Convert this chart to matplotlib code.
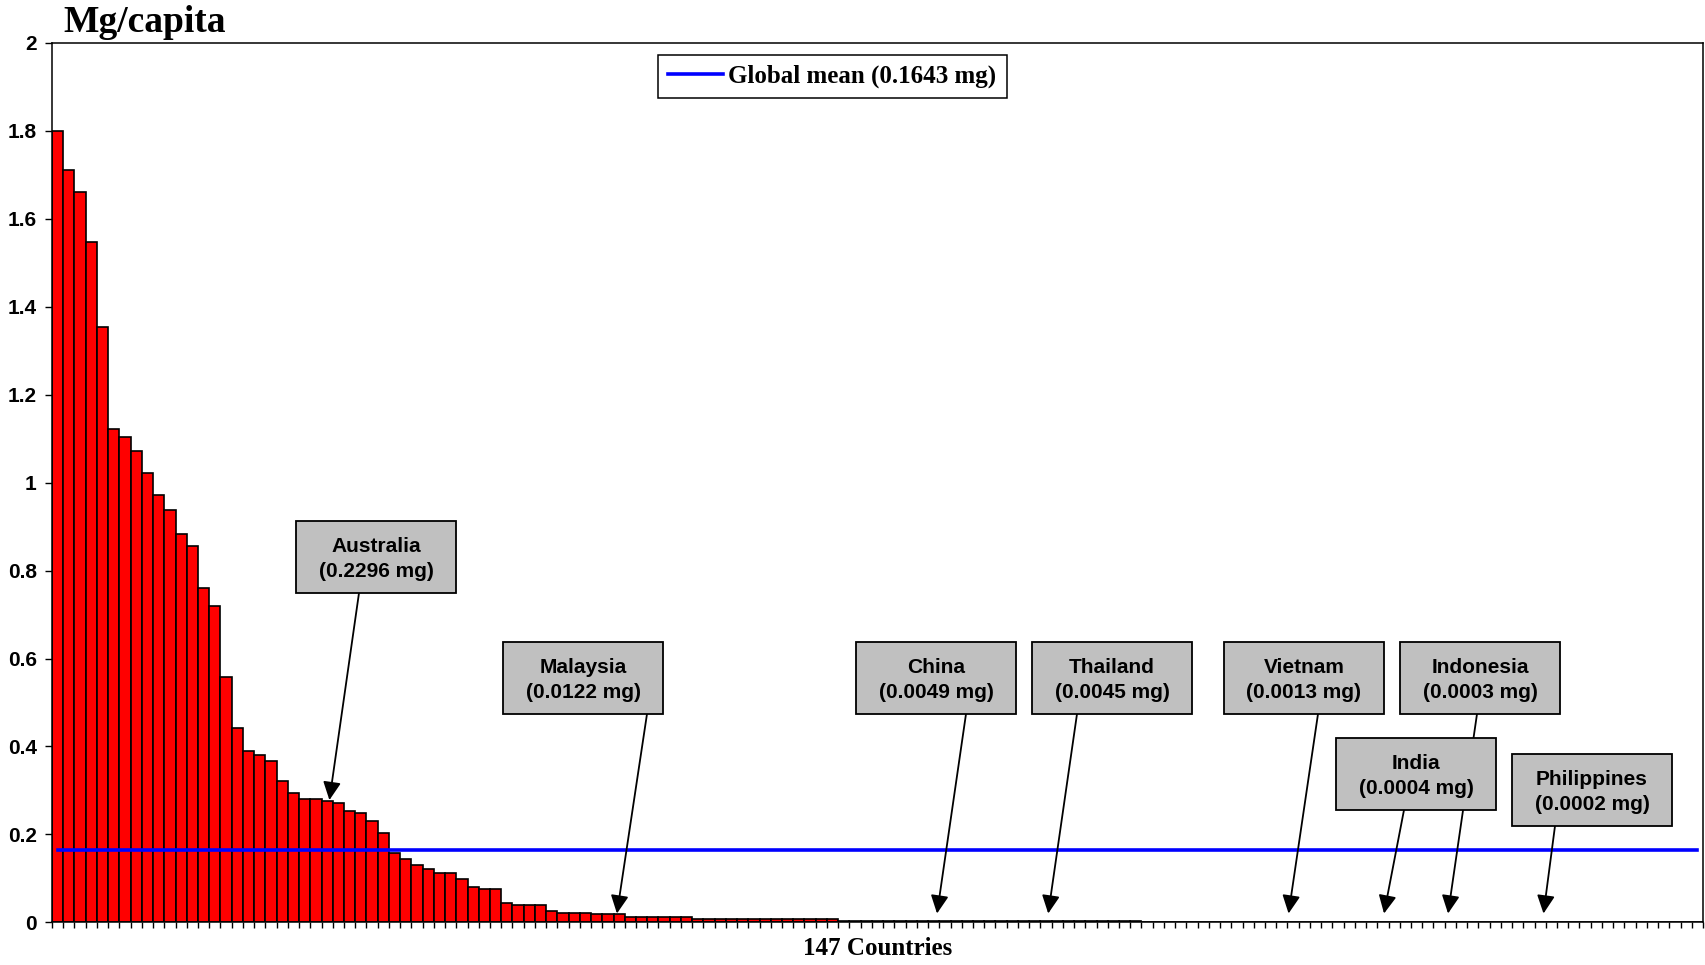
import numpy as np
import matplotlib
matplotlib.use('Agg')
import matplotlib.pyplot as plt
from matplotlib.patches import Rectangle

# values per country (sorted, 147 countries)
values = [
    1.800, 1.711, 1.662, 1.548, 1.354, 1.122, 1.104, 1.073, 1.023, 0.973,
    0.937, 0.884, 0.856, 0.760, 0.719, 0.557, 0.443, 0.389, 0.380, 0.367,
    0.321, 0.294, 0.280, 0.280, 0.276, 0.271, 0.253, 0.249, 0.230, 0.204,
    0.157, 0.145, 0.131, 0.122, 0.112, 0.112, 0.099, 0.081, 0.076, 0.076,
    0.045, 0.040, 0.040, 0.040, 0.026, 0.022, 0.022, 0.022, 0.019, 0.019,
    0.019, 0.013, 0.013, 0.013, 0.013, 0.013, 0.013, 0.008, 0.008, 0.008,
    0.008, 0.008, 0.008, 0.008, 0.008, 0.008, 0.008, 0.008, 0.008, 0.008,
    0.004, 0.004, 0.004, 0.004, 0.004, 0.004, 0.004, 0.004, 0.004, 0.004,
    0.004, 0.004, 0.003, 0.003, 0.003, 0.003, 0.003, 0.003, 0.003, 0.003,
    0.003, 0.003, 0.003, 0.003, 0.003, 0.003, 0.003, 0.0004, 0.0004, 0.0004,
    0.0004, 0.0004, 0.0004, 0.0004, 0.0004, 0.0004, 0.0004, 0.0004, 0.0004, 0.0004,
    0.0004, 0.0004, 0.0004, 0.0004, 0.0004, 0.0004, 0.0004, 0.0004, 0.0004, 0.0004,
    0.0003, 0.0003, 0.0003, 0.0003, 0.0003, 0.0003, 0.0003, 0.0003, 0.0003, 0.0003,
    0.0002, 0.0002, 0.0002, 0.0002, 0.0002, 0.0002, 0.0002, 0.0002, 0.0002, 0.0002,
    0.0001, 0.0001, 0.0001, 0.0001, 0.0001, 0.0001, 0.0001,
]
global_mean = 0.1643
mean_label = 'Global mean (0.1643 mg)'
ytick_vals = [0, 0.2, 0.4, 0.6, 0.8, 1.0, 1.2, 1.4, 1.6, 1.8, 2.0]
ytick_labels = ['0', '0.2', '0.4', '0.6', '0.8', '1', '1.2', '1.4', '1.6', '1.8', '2']

# callouts: label text, arrow tip (bar position, height)
callout_text = [
    'Australia\n(0.2296 mg)', 'Malaysia\n(0.0122 mg)', 'China\n(0.0049 mg)',
    'Thailand\n(0.0045 mg)', 'Vietnam\n(0.0013 mg)', 'Indonesia\n(0.0003 mg)',
    'India\n(0.0004 mg)', 'Philippines\n(0.0002 mg)',
]
callout_tip_x = [24.2, 49.8, 78.3, 88.2, 109.6, 123.8, 118.1, 132.3]
callout_tip_y = [0.278, 0.02, 0.02, 0.02, 0.02, 0.02, 0.02, 0.02]

# layout in pixels of the 1705x965 picture (from top-left)
W, H = 1705, 965
box_centers = [(376, 557), (583, 678), (936, 678), (1112, 678),
               (1304, 678), (1480, 678), (1416, 774), (1592, 790)]
arrow_starts = [(359, 593), (647, 714), (966, 714), (1077, 714),
                (1318, 714), (1477, 714), (1404, 810), (1555, 826)]
box_w, box_h = 160, 72


def fx(px):
    return px / W


def fy(py):
    return 1 - py / H


fig = plt.figure(figsize=(W / 100, H / 100), dpi=100)
ax = fig.add_axes([fx(52), fy(922.3), fx(1703) - fx(52), fy(43) - fy(922.3)])

x = np.arange(len(values))
ax.bar(x, values, width=1.0, color='#FF0000', edgecolor='black', linewidth=1.2, zorder=2)
ax.plot([x[0], x[-1]], [global_mean, global_mean], color='#0000FF', lw=2.6,
        label=mean_label, zorder=3)

ax.set_xlim(-0.5, len(values) - 0.5)
ax.set_ylim(0, 2)
ax.set_xticks(np.arange(len(values) + 1) - 0.5)
ax.set_xticklabels([])
ax.set_yticks(ytick_vals)
ax.set_yticklabels(ytick_labels, fontfamily='Liberation Sans', fontweight='bold', fontsize=15)
ax.tick_params(axis='y', direction='out', length=5, width=1.0, pad=6)
ax.tick_params(axis='x', direction='out', length=4.3, width=1.0)
for s in ax.spines.values():
    s.set_linewidth(1.1)

leg = ax.legend(loc='center', bbox_to_anchor=(fx(832.5), fy(76.5)),
                bbox_transform=fig.transFigure, fancybox=False, framealpha=1,
                edgecolor='black', handlelength=2.2, handletextpad=0.2,
                borderpad=0.4, prop={'family': 'Liberation Serif', 'weight': 'bold', 'size': 18})
leg.get_frame().set_linewidth(1.1)

fig.text(fx(63), fy(32), 'Mg/capita', fontfamily='Liberation Serif', fontweight='bold',
         fontsize=27, va='baseline', ha='left')
fig.text(fx(877.5), fy(955), '147 Countries', fontfamily='Liberation Serif', fontweight='bold',
         fontsize=18, va='baseline', ha='center')

for i in range(len(callout_text)):
    sx, sy = arrow_starts[i]
    ax.annotate('', xy=(callout_tip_x[i], callout_tip_y[i]), xycoords='data',
                xytext=(fx(sx), fy(sy)), textcoords='figure fraction',
                arrowprops=dict(arrowstyle='-|>,head_length=0.55,head_width=0.27',
                                mutation_scale=20, color='black', lw=1.3,
                                shrinkA=0, shrinkB=0), zorder=4)
    cx, cy = box_centers[i]
    fig.add_artist(Rectangle((fx(cx - box_w / 2), fy(cy + box_h / 2)), box_w / W, box_h / H,
                             transform=fig.transFigure, facecolor='#C0C0C0',
                             edgecolor='black', linewidth=1.3, zorder=5))
    fig.text(fx(cx), fy(cy + 2), callout_text[i], fontfamily='Liberation Sans', fontweight='bold',
             fontsize=15, ha='center', va='center', linespacing=1.45, zorder=6)

fig.savefig('out.png', dpi=100)
